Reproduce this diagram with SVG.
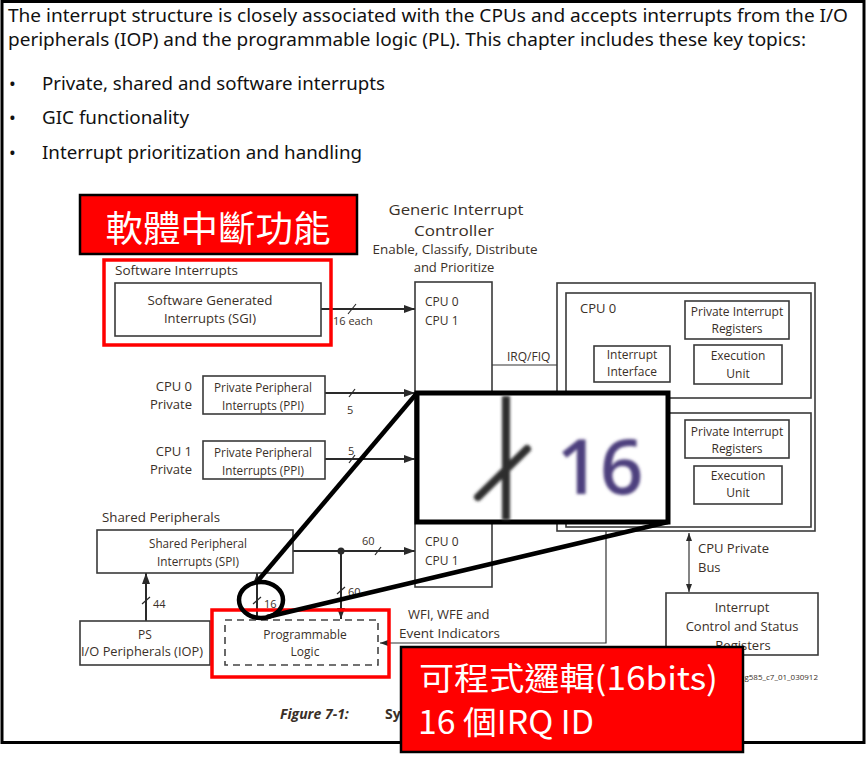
<svg xmlns="http://www.w3.org/2000/svg" width="867" height="768" viewBox="0 0 867 768">
<defs>
<style>
.top{font-family:"Noto Sans","Open Sans",sans-serif;font-size:18px;fill:#111}
.t{font-family:"Open Sans","Noto Sans",sans-serif;fill:#3a3028}
.s11{font-size:11px}.s12{font-size:12px}.s13{font-size:13px}.s15{font-size:15px}
.mid{text-anchor:middle}.end{text-anchor:end}
.box{fill:#fff;stroke:#3a3a3a;stroke-width:1.6}
.ln{stroke:#2a2a2a;stroke-width:2;fill:none}
.thin{stroke:#333;stroke-width:1.2;fill:none}
.sl{stroke:#2a2a2a;stroke-width:1.2}
.red{fill:none;stroke:#ff0000;stroke-width:3.5}
.zl{stroke:#000;stroke-width:4.5;fill:none}
.cjk{font-family:"Noto Sans CJK TC","Noto Sans CJK SC",sans-serif;fill:#fff}
</style>
<marker id="arr" markerUnits="userSpaceOnUse" markerWidth="11" markerHeight="8" refX="11" refY="4" orient="auto-start-reverse"><path d="M0,0 L11,4 L0,8 z" fill="#2a2a2a"/></marker>
<marker id="arrs" markerUnits="userSpaceOnUse" markerWidth="8" markerHeight="6" refX="8" refY="3" orient="auto-start-reverse"><path d="M0,0 L8,3 L0,6 z" fill="#2a2a2a"/></marker>
<filter id="blur" x="-20%" y="-20%" width="140%" height="140%"><feGaussianBlur stdDeviation="1.6"/></filter>
</defs>
<rect x="0" y="0" width="867" height="768" fill="#fff"/>
<rect x="2" y="1.5" width="862" height="741" fill="none" stroke="#000" stroke-width="3"/>

<g id="intro">
<text class="top" x="8" y="22" textLength="840" lengthAdjust="spacingAndGlyphs">The interrupt structure is closely associated with the CPUs and accepts interrupts from the I/O</text>
<text class="top" x="8" y="46" textLength="798" lengthAdjust="spacingAndGlyphs">peripherals (IOP) and the programmable logic (PL). This chapter includes these key topics:</text>
<text class="top" x="9" y="90">•</text>
<text class="top" x="42" y="90" textLength="343" lengthAdjust="spacingAndGlyphs">Private, shared and software interrupts</text>
<text class="top" x="9" y="124">•</text>
<text class="top" x="42" y="124" textLength="147" lengthAdjust="spacingAndGlyphs">GIC functionality</text>
<text class="top" x="9" y="159">•</text>
<text class="top" x="42" y="159" textLength="320" lengthAdjust="spacingAndGlyphs">Interrupt prioritization and handling</text>
</g>

<g id="gic-title">
<text class="t s15 mid" x="456" y="215" textLength="135" lengthAdjust="spacingAndGlyphs">Generic Interrupt</text>
<text class="t s15 mid" x="454" y="236" textLength="80" lengthAdjust="spacingAndGlyphs">Controller</text>
<text class="t s13 mid" x="455" y="254" textLength="165" lengthAdjust="spacingAndGlyphs">Enable, Classify, Distribute</text>
<text class="t s13 mid" x="454" y="272">and Prioritize</text>
</g>

<g id="connectors">
<line class="ln" x1="321" y1="309" x2="415" y2="309" marker-end="url(#arr)"/>
<line class="sl" x1="348" y1="314" x2="356" y2="304"/>
<line class="ln" x1="325" y1="393" x2="415" y2="393" marker-end="url(#arr)"/>
<line class="sl" x1="349" y1="397" x2="355" y2="389"/>
<line class="ln" x1="325" y1="459" x2="415" y2="459" marker-end="url(#arr)"/>
<line class="sl" x1="349" y1="463" x2="355" y2="455"/>
<line class="ln" x1="293" y1="551" x2="415" y2="551" marker-end="url(#arr)"/>
<line class="sl" x1="375" y1="555" x2="381" y2="547"/>
<circle cx="341" cy="551" r="3.5" fill="#2a2a2a"/>
<line class="ln" x1="341" y1="551" x2="341" y2="619" marker-end="url(#arr)"/>
<line class="sl" x1="337" y1="594" x2="345" y2="587"/>
<line class="ln" x1="146" y1="621" x2="146" y2="573" marker-end="url(#arr)"/>
<line class="sl" x1="142" y1="604" x2="150" y2="597"/>
<line class="ln" x1="257" y1="620" x2="257" y2="573" marker-end="url(#arr)"/>
<line class="sl" x1="253" y1="604" x2="261" y2="597"/>
<line class="thin" x1="492" y1="365" x2="594" y2="365" marker-end="url(#arrs)"/>
<polyline class="thin" points="606,531 606,643 380,643" marker-end="url(#arrs)"/>
<line class="thin" x1="689" y1="533" x2="689" y2="592" marker-start="url(#arrs)" marker-end="url(#arrs)"/>
</g>

<g id="labels">
<text class="t s11" x="333" y="325">16 each</text>
<text class="t s11" x="347" y="414">5</text>
<text class="t s11" x="348" y="455">5</text>
<text class="t s11" x="362" y="545">60</text>
<text class="t s11" x="348" y="596">60</text>
<text class="t s11" x="153" y="608">44</text>
<text class="t s11" x="264" y="608">16</text>
<text class="t s12" x="507" y="361">IRQ/FIQ</text>
<text class="t s13" x="408" y="619">WFI, WFE and</text>
<text class="t s13" x="399" y="638" textLength="101" lengthAdjust="spacingAndGlyphs">Event Indicators</text>
<text class="t s13" x="698" y="553">CPU Private</text>
<text class="t s13" x="698" y="572">Bus</text>
</g>

<g id="sgi">
<text class="t s13" x="115" y="275" textLength="123" lengthAdjust="spacingAndGlyphs">Software Interrupts</text>
<rect class="box" x="115" y="283" width="206" height="53"/>
<text class="t s13 mid" x="210" y="305" textLength="125" lengthAdjust="spacingAndGlyphs">Software Generated</text>
<text class="t s13 mid" x="210" y="323">Interrupts (SGI)</text>
</g>

<g id="gic">
<rect class="box" x="415" y="282" width="77" height="305"/>
<text class="t s12" x="425" y="306">CPU 0</text>
<text class="t s12" x="425" y="325">CPU 1</text>
<text class="t s12" x="425" y="400">CPU 0</text>
<text class="t s12" x="425" y="546">CPU 0</text>
<text class="t s12" x="425" y="565">CPU 1</text>
</g>

<g id="ppi0">
<text class="t s13 end" x="192" y="391">CPU 0</text>
<text class="t s13 end" x="192" y="409">Private</text>
<rect class="box" x="203" y="376" width="122" height="38"/>
<text class="t s12 mid" x="263" y="392" textLength="98" lengthAdjust="spacingAndGlyphs">Private Peripheral</text>
<text class="t s12 mid" x="263" y="410" textLength="82" lengthAdjust="spacingAndGlyphs">Interrupts (PPI)</text>
</g>

<g id="ppi1">
<text class="t s13 end" x="192" y="456">CPU 1</text>
<text class="t s13 end" x="192" y="474">Private</text>
<rect class="box" x="203" y="441" width="122" height="38"/>
<text class="t s12 mid" x="263" y="457" textLength="98" lengthAdjust="spacingAndGlyphs">Private Peripheral</text>
<text class="t s12 mid" x="263" y="475" textLength="82" lengthAdjust="spacingAndGlyphs">Interrupts (PPI)</text>
</g>

<g id="spi">
<text class="t s13" x="102" y="522" textLength="118" lengthAdjust="spacingAndGlyphs">Shared Peripherals</text>
<rect class="box" x="97" y="530" width="196" height="43"/>
<text class="t s12 mid" x="198" y="548" textLength="98" lengthAdjust="spacingAndGlyphs">Shared Peripheral</text>
<text class="t s12 mid" x="198" y="566" textLength="82" lengthAdjust="spacingAndGlyphs">Interrupts (SPI)</text>
</g>

<g id="iop">
<rect class="box" x="80" y="621" width="130" height="44"/>
<text class="t s12 mid" x="145" y="639">PS</text>
<text class="t s12 mid" x="142" y="656" textLength="122" lengthAdjust="spacingAndGlyphs">I/O Peripherals (IOP)</text>
</g>

<g id="pl">
<rect x="225" y="620" width="153" height="45" fill="#fff" stroke="#444" stroke-width="1.6" stroke-dasharray="7 5"/>
<text class="t s12 mid" x="305" y="639">Programmable</text>
<text class="t s12 mid" x="305" y="656">Logic</text>
</g>

<g id="cpus">
<rect class="box" x="557" y="283" width="258" height="248"/>
<rect class="box" x="566" y="293" width="245" height="105"/>
<text class="t s13" x="580" y="313">CPU 0</text>
<rect class="box" x="685" y="301" width="104" height="38"/>
<text class="t s12 mid" x="737" y="316">Private Interrupt</text>
<text class="t s12 mid" x="737" y="333">Registers</text>
<rect class="box" x="694" y="345" width="88" height="39"/>
<text class="t s12 mid" x="738" y="360">Execution</text>
<text class="t s12 mid" x="738" y="378">Unit</text>
<rect class="box" x="594" y="346" width="76" height="36"/>
<text class="t s12 mid" x="632" y="359">Interrupt</text>
<text class="t s12 mid" x="632" y="376">Interface</text>
<rect class="box" x="566" y="413" width="245" height="114"/>
<rect class="box" x="685" y="420" width="104" height="38"/>
<text class="t s12 mid" x="737" y="436">Private Interrupt</text>
<text class="t s12 mid" x="737" y="453">Registers</text>
<rect class="box" x="694" y="466" width="88" height="38"/>
<text class="t s12 mid" x="738" y="480">Execution</text>
<text class="t s12 mid" x="738" y="497">Unit</text>
</g>

<g id="icsr">
<rect class="box" x="666" y="593" width="152" height="62"/>
<text class="t s13 mid" x="742" y="612">Interrupt</text>
<text class="t s13 mid" x="742" y="631">Control and Status</text>
<text class="t s13 mid" x="743" y="650">Registers</text>
<text class="t end" x="818" y="680" font-size="8">ug585_c7_01_030912</text>
</g>

<g id="caption">
<text class="t" x="280" y="719" font-size="14" font-style="italic" font-weight="bold" fill="#222">Figure 7-1:</text>
<text class="t" x="385" y="719" font-size="14" font-weight="bold" fill="#222">Sy</text>
</g>

<g id="highlights">
<rect class="red" x="104" y="260" width="227" height="85"/>
<rect class="red" x="212" y="610" width="177" height="67"/>
</g>

<g id="zoom">
<ellipse cx="261" cy="600" rx="22" ry="18" class="zl"/>
<line class="zl" x1="256" y1="583" x2="417" y2="393"/>
<line class="zl" x1="267" y1="617" x2="668" y2="522"/>
<rect x="417" y="393" width="251" height="129" fill="#fff" stroke="#000" stroke-width="5"/>
<g filter="url(#blur)">
<line x1="506" y1="396" x2="506" y2="520" stroke="#2f2f2f" stroke-width="8"/>
<line x1="478" y1="497" x2="527" y2="449" stroke="#2f2f2f" stroke-width="8" stroke-linecap="round"/>
<text x="600" y="494" font-family="Open Sans,Noto Sans,sans-serif" font-size="76" font-weight="600" text-anchor="middle" fill="#4e3f7e">16</text>
</g>
</g>

<g id="callout-sw">
<rect x="80" y="195" width="277" height="59" fill="#ff0000" stroke="#000" stroke-width="2.5"/>
<text class="cjk" x="218" y="242" font-size="36" text-anchor="middle" textLength="225" lengthAdjust="spacingAndGlyphs">軟體中斷功能</text>
</g>

<g id="callout-pl">
<rect x="401" y="647" width="342" height="105" fill="#ff0000" stroke="#000" stroke-width="2.5"/>
<text class="cjk" x="419" y="690" font-size="32" textLength="299" lengthAdjust="spacingAndGlyphs">可程式邏輯(16bits)</text>
<text class="cjk" x="418" y="734" font-size="32" textLength="176" lengthAdjust="spacingAndGlyphs">16 個IRQ ID</text>
</g>
</svg>
